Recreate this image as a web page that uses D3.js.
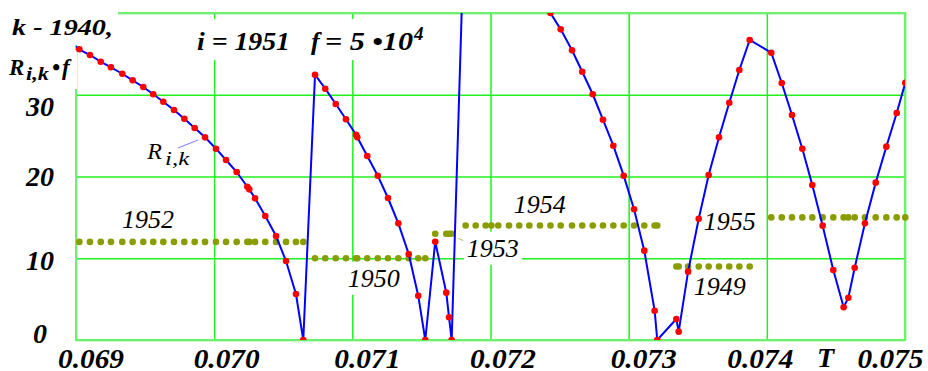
<!DOCTYPE html>
<html>
<head>
<meta charset="utf-8">
<script src="https://d3js.org/d3.v7.min.js"></script>
<style>
body { margin: 0; background: #fff; }
svg { display: block; }
.bi { font-weight: bold; font-style: italic; }
.it { font-style: italic; }
</style>
</head>
<body>
<script>
// sample points: T, R(i,k)*f and the best k for each T
var sampleT = [0.069024, 0.069101, 0.069179, 0.069253, 0.069335, 0.069410, 0.069487, 0.069559,
  0.069632, 0.069709, 0.069784, 0.069859, 0.069934, 0.070013, 0.070086, 0.070163, 0.070240,
  0.070254, 0.070296, 0.070370, 0.070448, 0.070520, 0.070592, 0.070645,
  0.070730, 0.070804, 0.070880, 0.070954, 0.071027, 0.071036, 0.071108, 0.071184, 0.071258,
  0.071333, 0.071408, 0.071477, 0.071528,
  0.071600, 0.071680, 0.071700, 0.071719,
  0.071820, 0.071893, 0.071965, 0.072006, 0.072056, 0.072134, 0.072208, 0.072281, 0.072358,
  0.072434, 0.072508, 0.072590, 0.072664, 0.072740, 0.072814, 0.072889, 0.072964, 0.073039,
  0.073113, 0.073188, 0.073207,
  0.073345, 0.073362, 0.073430, 0.073507, 0.073579, 0.073654, 0.073728, 0.073801, 0.073876,
  0.074032, 0.074108, 0.074182, 0.074257, 0.074329, 0.074404, 0.074481, 0.074556, 0.074590,
  0.074636, 0.074710, 0.074788, 0.074865, 0.074940, 0.075002];
var sampleR = [35.56, 34.86, 34.04, 33.36, 32.57, 31.77, 30.95, 30.06,
  29.15, 28.13, 27.07, 25.93, 24.79, 23.40, 22.02, 20.55, 18.75,
  18.43, 17.33, 15.17, 12.72, 9.66, 5.63, 0,
  32.45, 30.74, 28.87, 27.00, 25.11, 24.79, 22.51, 20.10, 17.37,
  14.27, 10.52, 5.42, 0,
  12.02, 5.79, 2.78, 0,
  55.9, 58.0, 58.5, 58.5, 58.0, 56.0, 52.0, 47.0, 42.5,
  40.0, 38.0, 35.44, 32.82, 30.06, 26.95, 23.77, 20.10, 15.99,
  10.93, 3.58, 0,
  2.57, 1.02, 8.36, 14.84, 20.18, 24.79, 29.03, 33.03, 36.70,
  35.14, 31.44, 27.52, 23.40, 18.96, 13.99, 8.56, 4.00, 5.17,
  8.84, 14.27, 19.25, 23.65, 27.77, 31.47];
var sampleK = [1952, 1952, 1952, 1952, 1952, 1952, 1952, 1952,
  1952, 1952, 1952, 1952, 1952, 1952, 1952, 1952, 1952,
  1952, 1952, 1952, 1952, 1952, 1952, 1952,
  1950, 1950, 1950, 1950, 1950, 1950, 1950, 1950, 1950,
  1950, 1950, 1950, 1950,
  1953, 1953, 1953, 1953,
  1954, 1954, 1954, 1954, 1954, 1954, 1954, 1954, 1954,
  1954, 1954, 1954, 1954, 1954, 1954, 1954, 1954, 1954,
  1954, 1954, 1954,
  1949, 1949, 1949, 1949, 1949, 1949, 1949, 1949, 1949,
  1955, 1955, 1955, 1955, 1955, 1955, 1955, 1955, 1955,
  1955, 1955, 1955, 1955, 1955, 1955];
// the blue curve starts at the left edge
var curveStart = [0.069, 35.9];

var xTicks = [0.069, 0.070, 0.071, 0.072, 0.073, 0.074, 0.075];
var yTicks = [0, 10, 20, 30, 40];
var yLabels = [0, 10, 20, 30];
var kLabels = [1952, 1950, 1953, 1954, 1955, 1949];
var kBase = 1940;
var iVal = 1951;

var width = 928, height = 371;
var margin = {top: 13, right: 23, bottom: 31, left: 76};
var w = width - margin.left - margin.right,
    h = height - margin.top - margin.bottom;
var serif = "'Liberation Serif', 'Times New Roman', serif";

var x = d3.scaleLinear().domain([0.069, 0.075]).range([0, w]);
var y = d3.scaleLinear().domain([0, 40]).range([h, 0]);

// squeeze a text to a given advance width
function fit(sel, len) {
  return sel.attr("textLength", len).attr("lengthAdjust", "spacingAndGlyphs");
}

var svg = d3.select("body").append("svg")
    .attr("width", width)
    .attr("height", height)
    .attr("font-family", serif);

var g = svg.append("g")
    .attr("transform", "translate(" + margin.left + "," + margin.top + ")");

g.append("clipPath").attr("id", "plot")
  .append("rect").attr("width", w).attr("height", h);

// grid
var gridColor = "#22ee22";
var xAxis = g.append("g")
    .attr("transform", "translate(0," + h + ")")
    .call(d3.axisBottom(x).tickValues(xTicks).tickSize(-h).tickFormat(d3.format(".3f")));
var yAxis = g.append("g")
    .call(d3.axisLeft(y).tickValues(yTicks).tickSize(-w).tickFormat(function(d) { return yLabels.indexOf(d) >= 0 ? d : ""; }));

g.selectAll(".domain").remove();
xAxis.attr("font-family", serif).attr("font-size", 28);
yAxis.attr("font-family", serif).attr("font-size", 28);
g.selectAll(".tick line").attr("stroke", gridColor).attr("stroke-width", 1.5);

g.append("rect")
    .attr("width", w).attr("height", h)
    .attr("fill", "none").attr("stroke", "#70ee70").attr("stroke-width", 2);

// tick labels, placed like the original
var xShift = function(d) { return d > 0.0745 ? -48 : d > 0.0735 ? -40 : (Math.round(d * 1000) % 2 ? -18.5 : -21); };
xAxis.selectAll(".tick text")
    .attr("class", "bi").attr("fill", "#000")
    .attr("text-anchor", "start").attr("y", 27.5).attr("dy", 0)
    .attr("x", xShift)
    .call(fit, 66);

var yShift = {0: 2.7, 10: 11, 20: 8.5, 30: 20.3};
yAxis.selectAll(".tick text")
    .attr("class", "bi").attr("fill", "#000")
    .attr("text-anchor", "middle").attr("x", -36).attr("dy", 0)
    .attr("y", function(d) { return yShift[d] || 0; });

// labels with white backing
var notes = g.append("g");
function backed(sel, pad) {
  var b = sel.node().getBBox();
  notes.insert("rect", ":first-child")
      .attr("x", b.x - pad).attr("y", b.y - pad)
      .attr("width", b.width + 2 * pad).attr("height", b.height + 2 * pad)
      .attr("fill", "#fff");
  return sel;
}

var t1 = notes.append("text").attr("class", "bi").attr("font-size", 24)
    .attr("x", -64).attr("y", 22)
    .text("k - " + kBase + ",");
fit(t1, 101);
backed(t1, 5);

var t2 = notes.append("text").attr("class", "bi").attr("font-size", 23);
t2.append("tspan").attr("x", -67).attr("y", 62).text("R");
t2.append("tspan").attr("x", -50).attr("y", 67).attr("font-size", 18)
    .attr("textLength", 23).attr("lengthAdjust", "spacingAndGlyphs").text("i,k");
t2.append("tspan").attr("x", -24).attr("y", 62).text("\u2022");
t2.append("tspan").attr("x", -14).attr("y", 62).text("f");
backed(t2, 5);

var t3 = notes.append("text").attr("class", "bi").attr("font-size", 26);
t3.append("tspan").attr("x", 121).attr("y", 37).attr("textLength", 93).attr("lengthAdjust", "spacingAndGlyphs").text("i = " + iVal);
t3.append("tspan").attr("x", 235).attr("y", 37).text("f");
t3.append("tspan").attr("x", 249).attr("y", 37).attr("textLength", 88).attr("lengthAdjust", "spacingAndGlyphs").text("= 5 \u202210");
t3.append("tspan").attr("x", 338).attr("y", 27).attr("font-size", 19).text("4");
backed(t3, 4);

// k - 1940 segment labels, anchored in data space
var kLabelAt = {1952: [0.069340, 13.66], 1950: [0.070975, 6.52], 1953: [0.071836, 10.19],
                1954: [0.072175, 15.5], 1955: [0.073550, 13.46], 1949: [0.073478, 5.5]};
kLabels.forEach(function(k) {
  var p = kLabelAt[k];
  var t = notes.append("text").attr("class", "it").attr("font-size", 25)
      .attr("x", x(p[0]) - 1).attr("y", y(p[1]))
      .text(k);
  fit(t, 52);
  backed(t, 3);
});

var tR = notes.append("text").attr("class", "it").attr("font-size", 24);
tR.append("tspan").attr("x", x(0.069523) - 1).attr("y", y(22.1)).text("R");
tR.append("tspan").attr("x", x(0.069645)).attr("y", y(22.1) + 6).attr("font-size", 18)
    .attr("textLength", 24).attr("lengthAdjust", "spacingAndGlyphs").text("i,k");

// leader lines
g.append("line")
    .attr("x1", x(0.069738)).attr("y1", y(23.49))
    .attr("x2", x(0.069883)).attr("y2", y(24.46))
    .attr("stroke", "#7777ff").attr("stroke-width", 1);
g.append("line")
    .attr("x1", x(0.071765)).attr("y1", y(12.44))
    .attr("x2", x(0.071803)).attr("y2", y(12.15))
    .attr("stroke", "#b5c060").attr("stroke-width", 1);

g.append("text").attr("class", "bi").attr("font-size", 28)
    .attr("x", 741).attr("y", h + 27).text("T");

// k - 1940 dots
var samples = sampleT.map(function(t, i) { return {t: t, r: sampleR[i], k: sampleK[i]}; });

g.append("g").selectAll("circle")
  .data(samples)
  .enter().append("circle")
    .attr("cx", function(d) { return x(d.t); })
    .attr("cy", function(d) { return y(d.k - kBase); })
    .attr("r", 3.3)
    .attr("fill", "#8b9c00");

// R curve
var pts = [curveStart].concat(samples.map(function(d) { return [d.t, d.r]; }));
g.append("path")
    .datum(pts)
    .attr("clip-path", "url(#plot)")
    .attr("fill", "none")
    .attr("stroke", "#0000ff")
    .attr("stroke-width", 2)
    .attr("d", d3.line().x(function(d) { return x(d[0]); }).y(function(d) { return y(d[1]); }));

g.append("g").attr("clip-path", "url(#plot)").selectAll("circle")
  .data(samples)
  .enter().append("circle")
    .attr("cx", function(d) { return x(d.t); })
    .attr("cy", function(d) { return y(d.r); })
    .attr("r", 3.3)
    .attr("fill", "#ff0000");
</script>
</body>
</html>
